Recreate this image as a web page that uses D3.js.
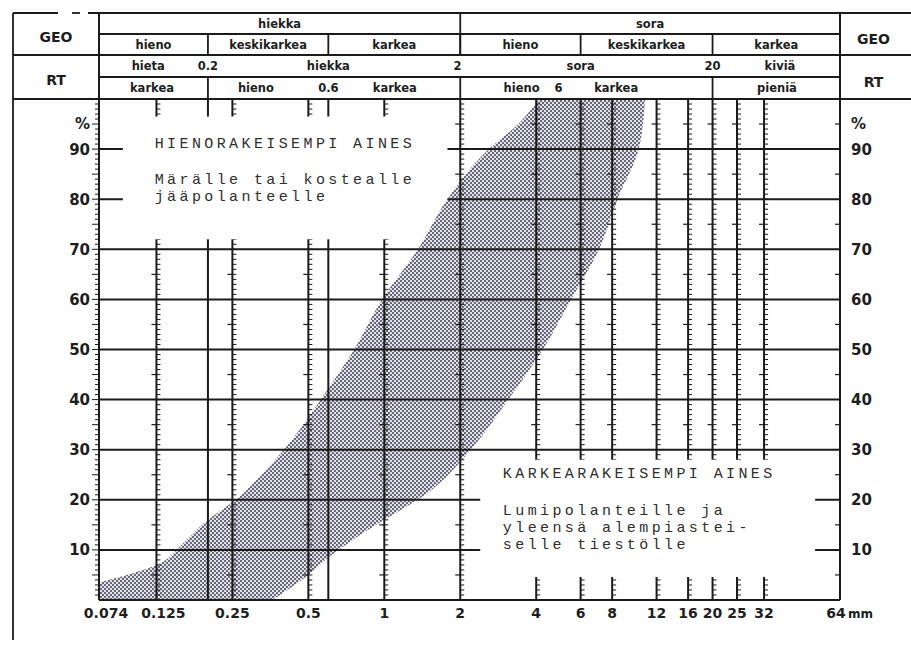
<!DOCTYPE html>
<html>
<head>
<meta charset="utf-8">
<script src="https://cdn.jsdelivr.net/npm/d3@7"></script>
<style>
  body { margin: 0; background: #fff; }
  svg { display: block; }
  .lbl { font-family: "DejaVu Sans", sans-serif; font-weight: bold; fill: #1e1e1e; }
  .note { font-family: "Liberation Mono", monospace; fill: #2e2e2e; letter-spacing: 3.4px; }
</style>
</head>
<body>
<div id="chart"></div>
<script>
// grain sizes on the bottom axis (mm)
const xTickValues = [0.074, 0.125, 0.25, 0.5, 1, 2, 4, 6, 8, 12, 16, 20, 25, 32, 64];
const xTickLabels = ["0.074", "0.125", "0.25", "0.5", "1", "2", "4", "6", "8", "12", "16", "20", "25", "32", "64"];
// lines with the small % scale on them, and the plain class boundaries
const scaleLineMm = [0.125, 0.25, 0.5, 1, 2, 4, 6, 8, 12, 16, 20, 25, 32];
const boundaryLineMm = [0.2, 0.6];
const yTickValues = [10, 20, 30, 40, 50, 60, 70, 80, 90];

// the shaded band: fine limit (left edge) and coarse limit (right edge)
const fineLimitMm  = [0.074, 0.125, 0.157, 0.2, 0.25, 0.34, 0.47, 0.56, 0.76, 0.98, 1.36, 1.78, 2.6, 3.4, 4.1];
const fineLimitPct = [3.5, 7, 11, 16, 19.5, 26, 34.5, 40, 50, 60, 70, 80, 90, 95, 100];
const coarseLimitMm  = [10.8, 10.2, 8.4, 7.1, 5.5, 4.25, 3.1, 2.2, 1.45, 1.0, 0.75, 0.6, 0.5, 0.36];
const coarseLimitPct = [100, 90, 80, 70, 60, 50, 40, 30, 21, 16, 12, 8.5, 5, 0];

// header table
const geoGroups = ["hiekka", "sora"];
const geoGroupEdges = [0.074, 2, 64];
const geoClasses = ["hieno", "keskikarkea", "karkea", "hieno", "keskikarkea", "karkea"];
const geoClassEdges = [0.074, 0.2, 0.6, 2, 6, 20, 64];
const rtTopLabels = ["hieta", "0.2", "hiekka", "2", "sora", "20", "kiviä"];
const rtTopAt = [0.116, 0.2, 0.6, 1.95, 6, 20, 37];
const rtSubLabels = ["karkea", "hieno", "0.6", "karkea", "hieno", "6", "karkea", "pieniä"];
const rtSubAt = [0.12, 0.31, 0.6, 1.1, 3.5, 4.9, 8.3, 36];
const rtSubEdges = [0.2, 2, 20];

// the two notes written inside the grid
const fineNote = ["HIENORAKEISEMPI AINES", "Märälle tai kostealle", "jääpolanteelle"];
const coarseNote = ["KARKEARAKEISEMPI AINES", "Lumipolanteille ja", "yleensä alempiastei-", "selle tiestölle"];

const width = 911, height = 648;
const frameLeft = 13, headRows = [13, 34, 55, 77, 99];
const plot = { left: 99, right: 840, top: 99, bottom: 600 };
const ink = "#1b1b1b";

const x = d3.scaleLog().domain([0.074, 64]).range([plot.left, plot.right]);
const y = d3.scaleLinear().domain([0, 100]).range([plot.bottom, plot.top]);

const svg = d3.select("#chart").append("svg")
  .attr("width", width)
  .attr("height", height);

const defs = svg.append("defs");

// halftone dots for the band
const pat = defs.append("pattern")
  .attr("id", "stipple")
  .attr("width", 4).attr("height", 4)
  .attr("patternUnits", "userSpaceOnUse");
pat.append("rect").attr("width", 4).attr("height", 4).attr("fill", "#e2e1ea");
pat.append("rect").attr("x", 0).attr("y", 0).attr("width", 2).attr("height", 2).attr("fill", "#6a6978");
pat.append("rect").attr("x", 2).attr("y", 2).attr("width", 2).attr("height", 2).attr("fill", "#6a6978");

// where the notes sit the grid is left out
const noteBoxes = [
  { mm0: 0.092, mm1: 1.78, p0: 72, p1: 96.5 },
  { mm0: 2.4, mm1: 51, p0: 4.6, p1: 28 }
];
const mask = defs.append("mask").attr("id", "notes")
  .attr("maskUnits", "userSpaceOnUse")
  .attr("x", 0).attr("y", 0).attr("width", width).attr("height", height);
mask.append("rect").attr("width", width).attr("height", height).attr("fill", "#fff");
mask.selectAll("rect.hole")
  .data(noteBoxes)
  .enter().append("rect")
  .attr("class", "hole")
  .attr("x", d => x(d.mm0))
  .attr("y", d => y(d.p1))
  .attr("width", d => x(d.mm1) - x(d.mm0))
  .attr("height", d => y(d.p0) - y(d.p1))
  .attr("fill", "#000");

// ---- band ----
const edge = d3.line()
  .x(d => x(d[0]))
  .y(d => y(d[1]))
  .curve(d3.curveMonotoneY);
const finePts = fineLimitMm.map((m, i) => [m, fineLimitPct[i]]);
const coarsePts = coarseLimitMm.map((m, i) => [m, coarseLimitPct[i]]);
const bandPath = edge(finePts) + "L" + edge(coarsePts).slice(1) +
  "L" + x(0.074) + "," + y(0) + "Z";
svg.append("path")
  .attr("d", bandPath)
  .attr("fill", "url(#stipple)")
  .attr("stroke", "none");

// ---- grid ----
const grid = svg.append("g").attr("mask", "url(#notes)");

grid.selectAll("line.h")
  .data(yTickValues)
  .enter().append("line")
  .attr("class", "h")
  .attr("x1", plot.left).attr("x2", plot.right)
  .attr("y1", d => y(d)).attr("y2", d => y(d))
  .attr("stroke", ink).attr("stroke-width", 2);

grid.selectAll("line.v")
  .data(scaleLineMm.concat(boundaryLineMm))
  .enter().append("line")
  .attr("class", "v")
  .attr("x1", d => x(d)).attr("x2", d => x(d))
  .attr("y1", plot.top).attr("y2", plot.bottom)
  .attr("stroke", ink).attr("stroke-width", 2);

// little % combs on the scale lines
const pct1 = d3.range(1, 100);
const pct5 = d3.range(5, 100, 10);
scaleLineMm.forEach(m => {
  const cx = x(m);
  grid.append("g").selectAll("line")
    .data(pct1).enter().append("line")
    .attr("x1", cx).attr("x2", cx + 4)
    .attr("y1", d => y(d)).attr("y2", d => y(d))
    .attr("stroke", ink).attr("stroke-width", 1);
  grid.append("g").selectAll("line")
    .data(pct5).enter().append("line")
    .attr("x1", cx - 5).attr("x2", cx)
    .attr("y1", d => y(d)).attr("y2", d => y(d))
    .attr("stroke", ink).attr("stroke-width", 1.2);
});

// ---- axes and frame ----
const frame = svg.append("g").attr("stroke", ink).attr("fill", "none");
frame.append("line").attr("x1", plot.left).attr("x2", plot.left).attr("y1", headRows[0]).attr("y2", plot.bottom).attr("stroke-width", 2);
frame.append("line").attr("x1", plot.right).attr("x2", plot.right).attr("y1", headRows[0]).attr("y2", plot.bottom).attr("stroke-width", 2);
frame.append("line").attr("x1", plot.left).attr("x2", plot.right).attr("y1", plot.bottom).attr("y2", plot.bottom).attr("stroke-width", 2);
frame.append("line").attr("x1", frameLeft).attr("x2", frameLeft).attr("y1", headRows[0]).attr("y2", 640).attr("stroke-width", 1.8);

// left axis ticks
svg.append("g").selectAll("line")
  .data(pct1).enter().append("line")
  .attr("x1", d => plot.left - (d % 5 === 0 ? 7 : 4)).attr("x2", plot.left)
  .attr("y1", d => y(d)).attr("y2", d => y(d))
  .attr("stroke", ink).attr("stroke-width", 1);
// right axis ticks
svg.append("g").selectAll("line")
  .data(pct5).enter().append("line")
  .attr("x1", plot.right - 5).attr("x2", plot.right)
  .attr("y1", d => y(d)).attr("y2", d => y(d))
  .attr("stroke", ink).attr("stroke-width", 1.2);

// y labels both sides
const yLab = svg.append("g").attr("class", "lbl").style("font-size", "15px");
yLab.selectAll("text.l")
  .data(yTickValues).enter().append("text")
  .attr("class", "l")
  .attr("x", plot.left - 9).attr("y", d => y(d))
  .attr("dy", "0.36em").attr("text-anchor", "end")
  .text(d => d);
yLab.selectAll("text.r")
  .data(yTickValues).enter().append("text")
  .attr("class", "r")
  .attr("x", plot.right + 11).attr("y", d => y(d))
  .attr("dy", "0.36em").attr("text-anchor", "start")
  .text(d => d);
yLab.append("text").attr("x", plot.left - 9).attr("y", y(95)).attr("dy", "0.36em").attr("text-anchor", "end").text("%");
yLab.append("text").attr("x", plot.right + 11).attr("y", y(95)).attr("dy", "0.36em").text("%");

// x labels
const xLab = svg.append("g").attr("class", "lbl").style("font-size", "14px");
xLab.selectAll("text")
  .data(xTickValues).enter().append("text")
  .attr("x", (d, i) => x(d) + (i < 2 ? 7 : (d === 64 ? -4 : 0)))
  .attr("y", plot.bottom + 18)
  .attr("text-anchor", "middle")
  .text((d, i) => xTickLabels[i]);
xLab.append("text")
  .attr("x", x(64) + 8).attr("y", plot.bottom + 18)
  .style("font-size", "12px")
  .text("mm");

// ---- header table ----
const head = svg.append("g").attr("stroke", ink).attr("stroke-width", 1.8);
// top rule, broken at the far left
[[frameLeft, 58], [72, 80], [88, width]].forEach(s => {
  head.append("line").attr("x1", s[0]).attr("x2", s[1]).attr("y1", headRows[0]).attr("y2", headRows[0]);
});
[headRows[2], headRows[4]].forEach(r => {
  head.append("line").attr("x1", frameLeft).attr("x2", width).attr("y1", r).attr("y2", r);
});
[headRows[1], headRows[3]].forEach(r => {
  head.append("line").attr("x1", plot.left).attr("x2", plot.right).attr("y1", r).attr("y2", r);
});
// dividers
head.append("line").attr("x1", x(2)).attr("x2", x(2)).attr("y1", headRows[0]).attr("y2", headRows[2]);
head.selectAll("line.gd")
  .data(geoClassEdges.slice(1, -1)).enter().append("line")
  .attr("class", "gd")
  .attr("x1", d => x(d)).attr("x2", d => x(d))
  .attr("y1", headRows[1]).attr("y2", headRows[2]);
head.selectAll("line.rd")
  .data(rtSubEdges).enter().append("line")
  .attr("class", "rd")
  .attr("x1", d => x(d)).attr("x2", d => x(d))
  .attr("y1", headRows[3]).attr("y2", headRows[4]);

const headText = svg.append("g").attr("class", "lbl").style("font-size", "11.5px");
const mid = (a, b) => (x(a) + x(b)) / 2;
headText.selectAll("text.gg")
  .data(geoGroups).enter().append("text")
  .attr("class", "gg")
  .attr("x", (d, i) => mid(geoGroupEdges[i], geoGroupEdges[i + 1]))
  .attr("y", (headRows[0] + headRows[1]) / 2).attr("dy", "0.36em")
  .attr("text-anchor", "middle").text(d => d);
headText.selectAll("text.gc")
  .data(geoClasses).enter().append("text")
  .attr("class", "gc")
  .attr("x", (d, i) => mid(geoClassEdges[i], geoClassEdges[i + 1]))
  .attr("y", (headRows[1] + headRows[2]) / 2).attr("dy", "0.36em")
  .attr("text-anchor", "middle").text(d => d);
headText.selectAll("text.rt")
  .data(rtTopLabels).enter().append("text")
  .attr("class", "rt")
  .attr("x", (d, i) => x(rtTopAt[i]))
  .attr("y", (headRows[2] + headRows[3]) / 2).attr("dy", "0.36em")
  .attr("text-anchor", "middle").text(d => d);
headText.selectAll("text.rs")
  .data(rtSubLabels).enter().append("text")
  .attr("class", "rs")
  .attr("x", (d, i) => x(rtSubAt[i]))
  .attr("y", (headRows[3] + headRows[4]) / 2).attr("dy", "0.36em")
  .attr("text-anchor", "middle").text(d => d);

const side = svg.append("g").attr("class", "lbl").style("font-size", "14px").attr("text-anchor", "middle");
[["GEO", 1], ["RT", 3]].forEach(([t, r]) => {
  side.append("text").attr("x", (frameLeft + plot.left) / 2).attr("y", headRows[r] + 3).attr("dy", "0.36em").text(t);
  side.append("text").attr("x", (plot.right + width) / 2 - 2).attr("y", headRows[r] + 5).attr("dy", "0.36em").text(t);
});

// ---- notes ----
const notes = svg.append("g").attr("class", "note").style("font-size", "15px");
notes.selectAll("text.f")
  .data(fineNote).enter().append("text")
  .attr("class", "f")
  .attr("x", x(0.123))
  .attr("y", (d, i) => i === 0 ? y(90.2) : y(83) + (i - 1) * 17)
  .text(d => d);
notes.selectAll("text.c")
  .data(coarseNote).enter().append("text")
  .attr("class", "c")
  .attr("x", x(2.95))
  .attr("y", (d, i) => i === 0 ? y(24.4) : y(17) + (i - 1) * 17)
  .text(d => d);
</script>
</body>
</html>
